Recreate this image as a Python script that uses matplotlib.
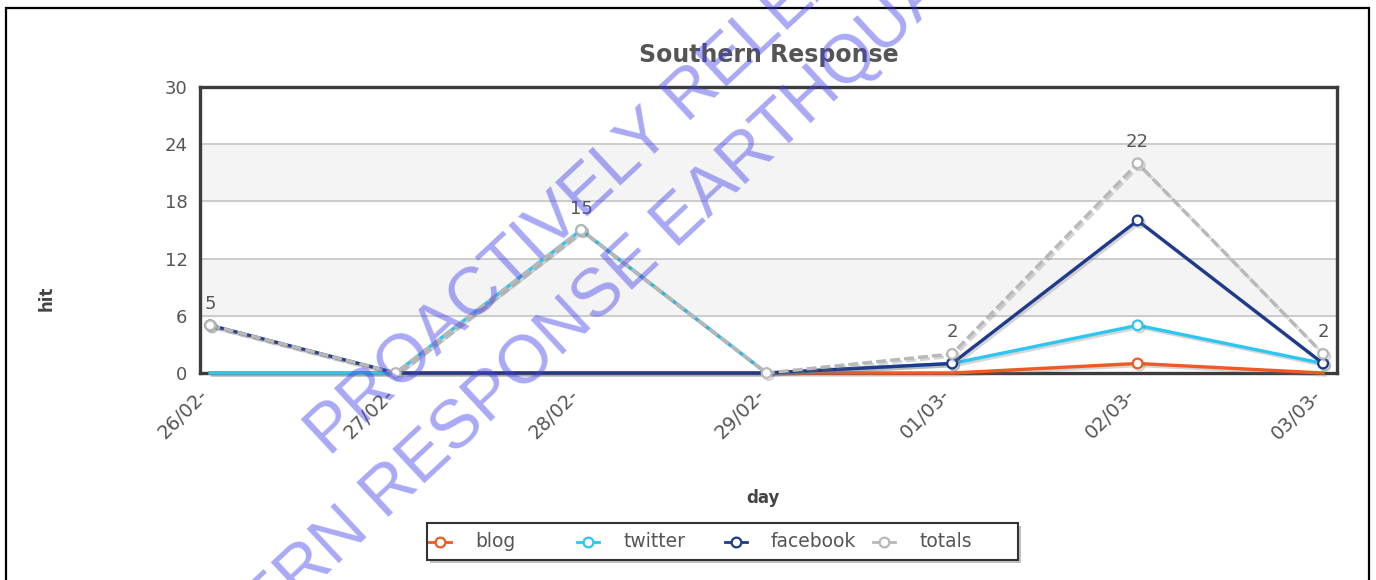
import numpy as np
import matplotlib
matplotlib.use('Agg')
import matplotlib.pyplot as plt
import matplotlib.patheffects as pe
from matplotlib.patches import Rectangle
from matplotlib.lines import Line2D
from matplotlib.transforms import ScaledTranslation
from matplotlib.font_manager import FontProperties

# data
days = ['26/02-', '27/02-', '28/02-', '29/02-', '01/03-', '02/03-', '03/03-']
blog = [0, 0, 0, 0, 0, 1, 0]
twitter = [0, 0, 15, 0, 1, 5, 1]
facebook = [5, 0, 0, 0, 1, 16, 1]
totals = [5, 0, 15, 0, 2, 22, 2]
yticks = [0, 6, 12, 18, 24, 30]

W, H = 1376, 580
fig = plt.figure(figsize=(W / 100, H / 100), dpi=100)
fig.patch.set_facecolor('white')


def px(x, y):
    # figure pixel (from top-left) -> figure fraction
    return x / W, 1 - y / H


ax = fig.add_axes([200 / W, 1 - 373 / H, (1337 - 200) / W, (373 - 87) / H])
x = np.arange(len(days))
ax.set_xlim(-0.055, 6.075)
ax.set_ylim(0, 30)

# banded background + grid
for lo, hi in [(6, 12), (18, 24)]:
    ax.axhspan(lo, hi, color='#f4f4f4', zorder=0)
for y in yticks[1:-1]:
    ax.axhline(y, color='#c4c4c4', lw=1.2, zorder=1)

shadow = [pe.SimpleLineShadow(offset=(1.5, -1.5), shadow_color='#777777', alpha=0.3), pe.Normal()]
mk = dict(marker='o', markersize=7, markerfacecolor='white', markeredgewidth=1.6)

series = [
    ('blog', blog, '#ee5a24', '-'),
    ('twitter', twitter, '#2cc6f0', '-'),
    ('facebook', facebook, '#1f3a8a', '-'),
    ('totals', totals, '#b8b8b8', (0, (3, 1.2))),
]
for i, (name, vals, col, ls) in enumerate(series):
    if name == 'totals':
        every = None
    else:
        # zero points show no marker in the original
        every = [j for j, v in enumerate(vals) if v != 0]
    ax.plot(x, vals, color=col, ls=ls, lw=2.4, markeredgecolor=col, markevery=every,
            zorder=3 + i, path_effects=shadow, clip_on=False, **mk)

# point labels on totals
for xi, v in zip(x, totals):
    if v > 0:
        ax.annotate(str(v), (xi, v), xytext=(0, 9), textcoords='offset points',
                    ha='center', va='bottom', fontsize=13, color='#555555', zorder=10)

for s in ax.spines.values():
    s.set_color('#3c3c3c')
    s.set_linewidth(2.4)
    s.set_zorder(2.5)
ax.set_yticks(yticks)
ax.set_xticks(x)
ax.set_xticklabels(days, rotation=45, ha='right', va='center', rotation_mode='anchor')
ax.tick_params(length=0, labelsize=13, labelcolor='#555555')
ax.tick_params(axis='x', labelsize=13.8, pad=14)
ax.tick_params(axis='y', pad=9)
shift = ScaledTranslation(-5 / 100, 0, fig.dpi_scale_trans)
for lbl in ax.get_xticklabels():
    lbl.set_transform(lbl.get_transform() + shift)

ax.set_title('Southern Response', fontsize=17, fontweight='bold', color='#555555', pad=18)
fig.text(*px(47, 298), 'hit', rotation=90, ha='center', va='center',
         fontsize=12, fontweight='bold', color='#444444')
fig.text(*px(763, 498), 'day', ha='center', va='center',
         fontsize=12, fontweight='bold', color='#444444')

# legend box drawn by hand: equal-width columns like the original
lx0, ly0, lx1, ly1 = 427, 523, 1018, 560
fig.patches.append(Rectangle(px(lx0 + 3, ly1 + 3), (lx1 - lx0) / W, (ly1 - ly0) / H,
                             transform=fig.transFigure, fc='#9a9a9a', ec='none', alpha=0.6, zorder=4))
fig.patches.append(Rectangle(px(lx0, ly1), (lx1 - lx0) / W, (ly1 - ly0) / H,
                             transform=fig.transFigure, fc='white', ec='#333333', lw=1.5, zorder=5))
ly = (ly0 + ly1) / 2
for i, (name, vals, col, ls) in enumerate(series):
    cx = 440 + 148 * i
    fig.add_artist(Line2D([(cx - 11) / W, (cx + 11) / W], [1 - ly / H] * 2, color=col, lw=2,
                          transform=fig.transFigure, zorder=6))
    fig.add_artist(Line2D([cx / W], [1 - ly / H], color=col, transform=fig.transFigure,
                          zorder=7, markeredgecolor=col, **mk))
    fig.text(*px(cx + 35, ly), name, ha='left', va='center', fontsize=13.5,
             color='#555555', zorder=7)

# outer border of the screenshot
fig.patches.append(Rectangle((6 / W, -0.05), (1369 - 6) / W, 1.05 - 8 / H, transform=fig.transFigure,
                             fill=False, ec='black', lw=1.6, zorder=20))

# watermark
wm_fp = FontProperties(family='Liberation Sans', size=49)
ang = 43
wm = dict(rotation=ang, rotation_mode='anchor', ha='left', va='baseline',
          fontproperties=wm_fp, color=(0.25, 0.25, 0.92), alpha=0.45, zorder=30)
fig.text(*px(330, 458), 'PROACTIVELY RELEASED BY', **wm)
rend = fig.canvas.get_renderer()
wpre, _, _ = rend.get_text_width_height_descent('SOUTHERN ', wm_fp, ismath=False)
a = np.deg2rad(ang)
sx, sy = 385 - wpre * np.cos(a), 520 + wpre * np.sin(a)
fig.text(*px(sx, sy), 'SOUTHERN RESPONSE EARTHQUAKE SERVICES', **wm)

fig.savefig('out.png', dpi=100)
